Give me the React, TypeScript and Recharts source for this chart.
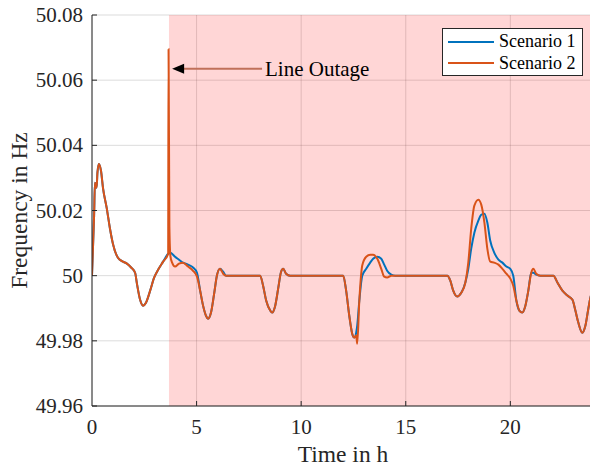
import {
  LineChart,
  Line,
  XAxis,
  YAxis,
  CartesianGrid,
  ReferenceArea,
  ReferenceLine,
} from "recharts";

const FONT = '"Liberation Serif", "Times New Roman", serif';
const AXIS = "#262626";

// time in hours
const time = [
  0, 0.1, 0.14, 0.22, 0.26, 0.33, 0.43, 0.53, 0.7, 0.86, 1.0, 1.24, 1.48, 1.67, 1.87, 2.06, 2.15, 2.3,
  2.44, 2.58, 2.78, 2.97, 3.16, 3.4, 3.64, 3.66, 3.7, 3.75, 3.83, 3.97, 4.16, 4.35, 4.59, 4.83, 5.02,
  5.17, 5.31, 5.45, 5.55, 5.69, 5.84, 5.98, 6.12, 6.27, 6.41, 8.04, 8.18, 8.33, 8.52, 8.61, 8.76, 8.9,
  9.04, 9.14, 9.28, 9.47, 12.01, 12.15, 12.3, 12.44, 12.54, 12.63, 12.68, 12.78, 12.92, 13.11, 13.3,
  13.44, 13.64, 13.83, 13.97, 14.11, 14.31, 14.5, 16.99, 17.13, 17.27, 17.46, 17.66, 17.85, 17.99,
  18.13, 18.28, 18.47, 18.61, 18.76, 18.9, 19.04, 19.23, 19.43, 19.62, 19.81, 20.0, 20.14, 20.29,
  20.43, 20.57, 20.72, 20.86, 21.0, 21.1, 21.24, 21.44, 22.06, 22.25, 22.49, 22.73, 22.97, 23.11,
  23.25, 23.44, 23.59, 23.73, 23.83, 24,
];

const scenario1 = [
  50.0, 50.0184, 50.0285, 50.027, 50.0316, 50.0343, 50.0322, 50.0267, 50.0209, 50.0144, 50.0098,
  50.0055, 50.0043, 50.0037, 50.0025, 50.0009, 49.9975, 49.9926, 49.9908, 49.9917, 49.9954, 49.9994,
  50.0018, 50.0043, 50.0067, 50.0068, 50.0069, 50.007, 50.0067, 50.0058, 50.0049, 50.004, 50.0034,
  50.0025, 50.0009, 49.9954, 49.9908, 49.9877, 49.9868, 49.9887, 49.9945, 50.0003, 50.0021, 50.0012,
  50.0, 50.0, 49.9969, 49.9923, 49.9893, 49.9887, 49.9908, 49.996, 50.0012, 50.0021, 50.0006, 50.0,
  50.0, 49.9954, 49.9877, 49.9822, 49.981, 49.9825, 49.9847, 49.9923, 50.0, 50.0021, 50.004, 50.0052,
  50.0058, 50.0052, 50.0034, 50.0015, 50.0003, 50.0, 50.0, 49.9985, 49.9954, 49.9936, 49.9948,
  49.9979, 50.0021, 50.0083, 50.0132, 50.0169, 50.0187, 50.019, 50.0163, 50.0107, 50.0071, 50.0049,
  50.004, 50.0028, 50.0021, 50.0, 49.9923, 49.9893, 49.9887, 49.9908, 49.9954, 50.0009, 50.0009,
  50.0003, 50.0, 50.0, 49.9979, 49.9954, 49.9939, 49.9926, 49.9893, 49.9856, 49.9825, 49.9847,
  49.9899, 49.9933, 49.9965,
];

const scenario2 = [
  50.0, 50.0184, 50.0285, 50.027, 50.0316, 50.0343, 50.0322, 50.0267, 50.0209, 50.0144, 50.0098,
  50.0055, 50.0043, 50.0037, 50.0025, 50.0009, 49.9975, 49.9926, 49.9908, 49.9917, 49.9954, 49.9994,
  50.0018, 50.0043, 50.0067, 50.0695, 50.015, 50.006, 50.004, 50.0028, 50.0037, 50.004, 50.0028,
  50.0015, 49.9997, 49.9954, 49.9908, 49.9877, 49.9868, 49.9887, 49.9945, 50.0003, 50.0021, 50.0006,
  50.0, 50.0, 49.9969, 49.9923, 49.9893, 49.9887, 49.9908, 49.996, 50.0012, 50.0021, 50.0006, 50.0,
  50.0, 49.9954, 49.9877, 49.9822, 49.981, 49.9816, 49.9791, 49.9923, 50.0031, 50.0058, 50.0064,
  50.0064, 50.0052, 50.0021, 49.9997, 49.9994, 50.0, 50.0, 50.0, 49.9985, 49.9954, 49.9936, 49.9948,
  49.9979, 50.004, 50.0144, 50.0215, 50.0233, 50.0218, 50.0163, 50.0083, 50.0043, 50.004, 50.0034,
  50.0021, 50.0006, 49.9991, 49.9969, 49.9923, 49.9893, 49.9887, 49.9908, 49.9954, 50.0009, 50.0021,
  50.0006, 50.0, 50.0, 49.9979, 49.9954, 49.9939, 49.9926, 49.9893, 49.9856, 49.9825, 49.9847,
  49.9899, 49.9933, 49.9965,
];

const xTicks = [0, 5, 10, 15, 20];
const yTicks = [49.96, 49.98, 50, 50.02, 50.04, 50.06, 50.08];

const series = [
  { key: "s1", name: "Scenario 1", color: "#0072BD" },
  { key: "s2", name: "Scenario 2", color: "#D95319" },
];

const outageStart = 3.68;
const outageLabel = "Line Outage";

const data = time.map((t, i) => ({ t, s1: scenario1[i], s2: scenario2[i] }));

function XTick({ x, y, payload }: any) {
  return (
    <g>
      {payload.value !== 0 && <line x1={x} x2={x} y1={y} y2={y - 5} stroke={AXIS} />}
      <text x={x} y={y + 28} textAnchor="middle" fontSize={21} fontFamily={FONT} fill={AXIS}>
        {payload.value}
      </text>
    </g>
  );
}

function YTick({ x, y, payload }: any) {
  return (
    <g>
      <line x1={x} x2={x + 5} y1={y} y2={y} stroke={AXIS} />
      <text x={x - 9} y={y + 7} textAnchor="end" fontSize={21} fontFamily={FONT} fill={AXIS}>
        {Number(payload.value.toFixed(2)).toString()}
      </text>
    </g>
  );
}

function XLabel({ viewBox }: any) {
  return (
    <text
      x={viewBox.x + viewBox.width / 2}
      y={viewBox.y + 56}
      textAnchor="middle"
      fontSize={23.5}
      fontFamily={FONT}
      fill={AXIS}
    >
      Time in h
    </text>
  );
}

function YLabel({ viewBox }: any) {
  const cy = viewBox.y + viewBox.height / 2;
  return (
    <text
      transform={`translate(27, ${cy}) rotate(-90)`}
      textAnchor="middle"
      fontSize={23.5}
      fontFamily={FONT}
      fill={AXIS}
    >
      Frequency in Hz
    </text>
  );
}

// arrow with label, pointing back at the outage spike
function OutageArrow({ x1, y1, x2 }: any) {
  return (
    <g>
      <line x1={x1 + 11} y1={y1} x2={x2} y2={y1} stroke="#C0705A" strokeWidth={2} />
      <polygon points={`${x1},${y1} ${x1 + 12},${y1 - 5} ${x1 + 12},${y1 + 5}`} fill="#000" />
      <text x={x2 + 3} y={y1 + 7} fontSize={21} fontFamily={FONT} fill="#000">
        {outageLabel}
      </text>
    </g>
  );
}

function LegendBox() {
  return (
    <div
      style={{
        position: "absolute",
        left: 442,
        top: 28,
        border: "1px solid #262626",
        background: "#fff",
        width: 141,
        height: 48,
        boxSizing: "border-box",
        fontFamily: FONT,
        fontSize: 18,
        color: "#000",
        padding: "2px 0 0 5px",
      }}
    >
      {series.map((s) => (
        <div key={s.key} style={{ display: "flex", alignItems: "center", height: 21.5 }}>
          <span style={{ width: 46, height: 2, background: s.color, marginRight: 5 }} />
          <span>{s.name}</span>
        </div>
      ))}
    </div>
  );
}

export default function App() {
  return (
    <div
      style={{
        position: "fixed",
        left: 0,
        top: 0,
        width: 590,
        height: 466,
        overflow: "hidden",
        background: "#fff",
      }}
    >
      <LineChart width={600} height={466} data={data} margin={{ top: 15, right: 6, bottom: 0, left: 0 }}>
        <ReferenceArea x1={outageStart} x2={24} y1={49.96} y2={50.08} fill="#FF0000" fillOpacity={0.16} stroke="none" />
        <CartesianGrid stroke="#000" strokeOpacity={0.14} vertical horizontal />
        <XAxis
          dataKey="t"
          type="number"
          domain={[0, 24]}
          ticks={xTicks}
          allowDataOverflow
          height={60}
          tickSize={0}
          tickMargin={0}
          tick={<XTick />}
          axisLine={{ stroke: AXIS }}
          tickLine={false}
          label={<XLabel />}
        />
        <YAxis
          type="number"
          domain={[49.96, 50.08]}
          ticks={yTicks}
          allowDataOverflow
          width={92}
          tickSize={0}
          tickMargin={0}
          tick={<YTick />}
          axisLine={{ stroke: AXIS }}
          tickLine={false}
          label={<YLabel />}
        />
        {series.map((s) => (
          <Line
            key={s.key}
            dataKey={s.key}
            name={s.name}
            type="monotone"
            stroke={s.color}
            strokeWidth={2}
            dot={false}
            isAnimationActive={false}
          />
        ))}
        <ReferenceLine
          segment={[
            { x: 3.83, y: 50.0635 },
            { x: 8.13, y: 50.0635 },
          ]}
          shape={<OutageArrow />}
        />
      </LineChart>
      <LegendBox />
    </div>
  );
}
